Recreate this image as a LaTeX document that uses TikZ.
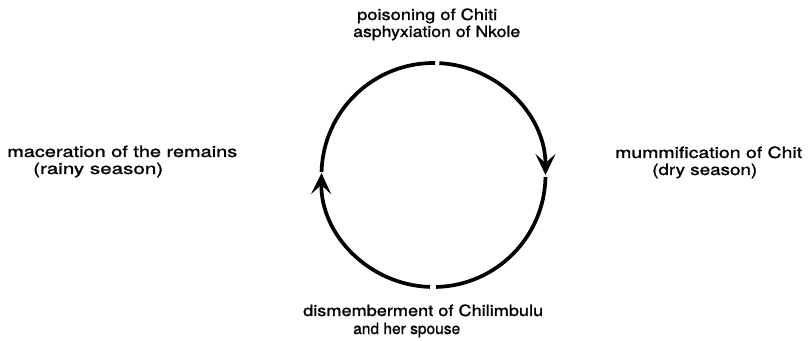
\documentclass[tikz,border=0pt]{standalone}
\usepackage{fontspec}
\setmainfont{TeX Gyre Heros}
\usetikzlibrary{arrows.meta}
\newcommand{\fitw}[2]{\resizebox{#1pt}{\height}{#2}}
\begin{document}
\begin{tikzpicture}[x=1pt,y=1pt,
  lbl/.style={anchor=base west, inner sep=0pt, font=\fontsize{15.5}{18}\selectfont\addfontfeature{FakeBold=1.2}},
  circ/.style={line width=3.7pt},
  arr/.style={-{Stealth[length=21pt,width=20pt,inset=9pt]}}]
\useasboundingbox (0,0) rectangle (811,340);
\coordinate (c) at (433.5,165);
% labels
\node[lbl] (top1) at (357,320) {\fitw{140}{poisoning of Chiti}};
\node[lbl] (top2) at (353,303) {\fitw{167}{asphyxiation of Nkole}};
\node[lbl] (left1) at (7,183) {\fitw{230}{maceration of the remains}};
\node[lbl] (left2) at (33,166) {\fitw{130}{(rainy season)}};
\node[lbl] (right1) at (615,182) {\fitw{187}{mummification of Chit}};
\node[lbl] (right2) at (652,165) {\fitw{105}{(dry season)}};
\node[lbl] (bot1) at (303,24) {\fitw{240}{dismemberment of Chilimbulu}};
\node[lbl] (bot2) at (353,6) {\fitw{107}{and her spouse}};
% cycle
\draw[circ,arr] ([shift={(87:112)}]c) arc[start angle=87,end angle=0,radius=112];
\draw[circ] ([shift={(-1:112)}]c) arc[start angle=-1,end angle=-88.7,radius=112];
\draw[circ,arr] ([shift={(-91.8:112)}]c) arc[start angle=-91.8,end angle=-181,radius=112];
\draw[circ] ([shift={(178.5:112)}]c) arc[start angle=178.5,end angle=89.2,radius=112];
\end{tikzpicture}
\end{document}
